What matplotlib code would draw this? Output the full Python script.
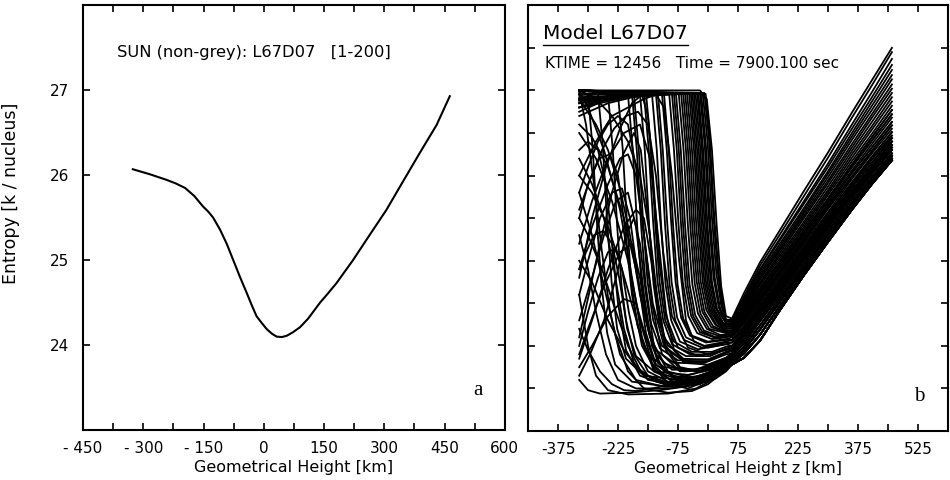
import matplotlib
matplotlib.use("Agg")
import matplotlib.pyplot as plt
from matplotlib.ticker import MultipleLocator, FixedLocator

plt.rcParams['font.family'] = ['DejaVu Sans']

# ---- panel a: mean entropy profile ----
height_a = [-326, -283, -242, -220, -196, -173, -151, -138, -126, -109, -92, -76, -60,
            -43, -30, -18, -5, 7, 20, 32, 45, 57, 72, 90, 110, 140, 160, 181, 222,
            264, 305, 347, 388, 430, 463]
entropy_a = [26.07, 26.01, 25.945, 25.905, 25.85, 25.755, 25.63, 25.57, 25.50, 25.36,
             25.19, 25.00, 24.81, 24.62, 24.47, 24.34, 24.26, 24.19, 24.135, 24.10,
             24.095, 24.11, 24.15, 24.21, 24.31, 24.50, 24.61, 24.73, 25.00, 25.30,
             25.59, 25.93, 26.26, 26.59, 26.93]

xticks_a = [-450, -300, -150, 0, 150, 300, 450, 600]
xlabels_a = ['- 450', '- 300', '- 150', '0', '150', '300', '450', '600']
yticks_a = [24, 25, 26, 27]

# ---- panel b: individual entropy profiles ----
# upper part of the profiles (x >= 60 km), one row per strand of the rising bundle
tail_x = [60, 90, 130, 180, 240, 300, 360, 410, 460]
tail_s = [
    [24.32, 24.62, 24.98, 25.36, 25.82, 26.27, 26.74, 27.12, 27.50],
    [24.30, 24.58, 24.94, 25.31, 25.76, 26.21, 26.68, 27.06, 27.45],
    [24.31, 24.56, 24.90, 25.26, 25.70, 26.14, 26.60, 26.98, 27.37],
    [24.28, 24.55, 24.88, 25.24, 25.67, 26.10, 26.55, 26.92, 27.30],
    [24.29, 24.52, 24.85, 25.20, 25.62, 26.05, 26.50, 26.87, 27.24],
    [24.26, 24.50, 24.82, 25.17, 25.59, 26.02, 26.46, 26.82, 27.18],
    [24.27, 24.48, 24.80, 25.14, 25.56, 25.98, 26.42, 26.77, 27.13],
    [24.24, 24.47, 24.78, 25.12, 25.53, 25.94, 26.37, 26.72, 27.07],
    [24.25, 24.45, 24.75, 25.09, 25.50, 25.91, 26.33, 26.68, 27.02],
    [24.22, 24.43, 24.73, 25.06, 25.46, 25.87, 26.29, 26.63, 26.97],
    [24.23, 24.42, 24.71, 25.03, 25.43, 25.83, 26.25, 26.58, 26.92],
    [24.20, 24.40, 24.68, 25.00, 25.40, 25.80, 26.21, 26.54, 26.87],
    [24.21, 24.38, 24.66, 24.98, 25.37, 25.77, 26.17, 26.49, 26.82],
    [24.18, 24.36, 24.63, 24.95, 25.34, 25.73, 26.13, 26.45, 26.77],
    [24.16, 24.34, 24.61, 24.92, 25.31, 25.70, 26.10, 26.41, 26.72],
    [24.17, 24.32, 24.58, 24.89, 25.28, 25.67, 26.06, 26.37, 26.68],
    [24.14, 24.30, 24.56, 24.87, 25.25, 25.64, 26.03, 26.33, 26.63],
    [24.12, 24.28, 24.53, 24.84, 25.22, 25.61, 25.99, 26.29, 26.59],
    [24.10, 24.26, 24.51, 24.81, 25.19, 25.57, 25.96, 26.26, 26.55],
    [24.07, 24.23, 24.48, 24.78, 25.16, 25.54, 25.92, 26.22, 26.51],
    [24.04, 24.20, 24.46, 24.76, 25.13, 25.51, 25.89, 26.19, 26.47],
    [24.00, 24.17, 24.43, 24.73, 25.10, 25.48, 25.86, 26.15, 26.44],
    [23.97, 24.14, 24.40, 24.70, 25.07, 25.45, 25.82, 26.11, 26.40],
    [23.94, 24.11, 24.37, 24.67, 25.04, 25.42, 25.79, 26.08, 26.36],
    [23.91, 24.07, 24.33, 24.64, 25.01, 25.39, 25.76, 26.05, 26.33],
    [23.88, 24.03, 24.29, 24.60, 24.97, 25.35, 25.72, 26.02, 26.30],
    [23.85, 23.99, 24.24, 24.56, 24.93, 25.31, 25.68, 25.98, 26.26],
    [23.82, 23.95, 24.19, 24.52, 24.90, 25.28, 25.65, 25.95, 26.23],
    [23.80, 23.91, 24.13, 24.47, 24.86, 25.25, 25.62, 25.92, 26.20],
    [23.78, 23.86, 24.06, 24.42, 24.83, 25.22, 25.60, 25.90, 26.18],
]

# deep part of profiles sitting on the adiabat (~27) that drop at their knee
plateau_heads = [
    ([-322, -300, -288, -277, -266, -252, -232, -190, -100, -20, 45],
     [27.0, 26.95, 26.3, 25.4, 24.7, 24.15, 23.78, 23.58, 23.52, 23.58, 23.74], 29),
    ([-322, -275, -263, -252, -241, -227, -205, -160, -70, 0, 45],
     [26.9, 26.97, 26.35, 25.45, 24.75, 24.2, 23.85, 23.65, 23.6, 23.66, 23.8], 28),
    ([-322, -250, -238, -227, -216, -202, -180, -135, -50, 10, 45],
     [27.0, 26.96, 26.3, 25.4, 24.7, 24.2, 23.88, 23.7, 23.66, 23.72, 23.84], 27),
    ([-322, -270, -225, -213, -202, -191, -177, -155, -110, -30, 45],
     [26.8, 26.9, 26.96, 26.3, 25.4, 24.72, 24.25, 23.93, 23.75, 23.72, 23.86], 26),
    ([-322, -200, -188, -177, -166, -152, -130, -85, -10, 45],
     [27.0, 26.95, 26.3, 25.4, 24.72, 24.25, 23.95, 23.8, 23.8, 23.9], 24),
    ([-322, -190, -178, -167, -156, -142, -120, -75, 0, 45],
     [26.95, 26.96, 26.3, 25.4, 24.72, 24.26, 23.97, 23.83, 23.84, 23.92], 23),
    ([-322, -260, -185, -173, -162, -151, -137, -115, -70, 0, 45],
     [26.75, 26.88, 26.95, 26.3, 25.45, 24.75, 24.3, 24.0, 23.85, 23.84, 23.93], 23),
    ([-322, -170, -158, -147, -136, -122, -100, -55, 5, 45],
     [27.0, 26.96, 26.3, 25.4, 24.72, 24.27, 24.0, 23.88, 23.88, 23.96], 22),
    ([-322, -230, -160, -148, -137, -126, -112, -90, -45, 10, 45],
     [26.8, 26.93, 26.96, 26.3, 25.45, 24.75, 24.3, 24.02, 23.9, 23.9, 23.97], 22),
    ([-322, -240, -155, -143, -132, -121, -107, -85, -40, 10, 45],
     [26.85, 26.95, 26.97, 26.35, 25.45, 24.75, 24.3, 24.05, 23.93, 23.93, 23.99], 21),
    ([-322, -140, -128, -117, -106, -92, -70, -25, 45],
     [27.0, 26.96, 26.3, 25.4, 24.72, 24.3, 24.05, 23.96, 24.02], 20),
    ([-322, -130, -118, -107, -96, -82, -60, -15, 45],
     [27.0, 26.96, 26.3, 25.4, 24.72, 24.3, 24.07, 23.98, 24.04], 20),
    ([-322, -250, -180, -125, -113, -102, -91, -77, -55, -10, 45],
     [26.7, 26.85, 26.93, 26.95, 26.3, 25.45, 24.75, 24.33, 24.1, 24.0, 24.05], 19),
    ([-322, -200, -115, -103, -92, -81, -67, -45, -5, 45],
     [26.85, 26.93, 26.96, 26.3, 25.45, 24.75, 24.33, 24.12, 24.04, 24.07], 19),
    ([-322, -110, -98, -87, -76, -62, -40, 0, 45],
     [27.0, 26.96, 26.3, 25.4, 24.72, 24.32, 24.12, 24.05, 24.08], 18),
    ([-322, -97, -85, -74, -63, -49, -27, 10, 45],
     [26.9, 26.96, 26.3, 25.45, 24.75, 24.35, 24.15, 24.08, 24.1], 17),
    ([-322, -90, -78, -67, -56, -42, -20, 15, 45],
     [27.0, 26.96, 26.3, 25.4, 24.72, 24.35, 24.16, 24.1, 24.11], 17),
    ([-322, -200, -85, -73, -62, -51, -37, -15, 20, 45],
     [26.8, 26.92, 26.96, 26.3, 25.4, 24.72, 24.35, 24.17, 24.1, 24.12], 16),
    ([-322, -80, -68, -57, -46, -32, -10, 25, 45],
     [26.9, 26.96, 26.3, 25.4, 24.72, 24.36, 24.18, 24.12, 24.13], 16),
    ([-322, -73, -61, -50, -39, -25, -3, 30, 45],
     [27.0, 26.96, 26.3, 25.4, 24.72, 24.38, 24.2, 24.13, 24.13], 15),
    ([-322, -67, -55, -44, -33, -19, 3, 45],
     [27.0, 26.96, 26.3, 25.4, 24.73, 24.38, 24.2, 24.15], 14),
    ([-322, -62, -50, -39, -28, -14, 8, 45],
     [26.92, 26.97, 26.3, 25.4, 24.75, 24.4, 24.22, 24.16], 14),
    ([-322, -57, -45, -34, -23, -9, 13, 45],
     [26.88, 26.97, 26.3, 25.4, 24.75, 24.4, 24.23, 24.17], 13),
    ([-322, -52, -40, -29, -18, -4, 18, 45],
     [27.0, 26.96, 26.3, 25.4, 24.75, 24.42, 24.25, 24.18], 13),
    ([-322, -150, -43, -31, -20, -9, 5, 25, 45],
     [26.85, 26.95, 26.97, 26.3, 25.4, 24.75, 24.42, 24.26, 24.2], 12),
    ([-322, -47, -35, -24, -13, 1, 22, 45],
     [27.0, 26.96, 26.3, 25.4, 24.75, 24.42, 24.24, 24.2], 11),
    ([-322, -35, -23, -12, -1, 13, 33, 45],
     [27.0, 26.96, 26.3, 25.4, 24.75, 24.42, 24.26, 24.22], 10),
    ([-322, -39, -27, -16, -5, 9, 29, 45],
     [26.96, 26.97, 26.3, 25.4, 24.75, 24.42, 24.26, 24.23], 9),
    ([-322, -27, -15, -4, 7, 20, 38, 45],
     [26.95, 26.97, 26.3, 25.4, 24.75, 24.44, 24.27, 24.24], 8),
    ([-322, -31, -19, -8, 3, 17, 36, 45],
     [27.0, 26.96, 26.3, 25.4, 24.75, 24.42, 24.26, 24.25], 7),
    ([-322, -20, -8, 3, 14, 27, 45],
     [27.0, 26.97, 26.35, 25.45, 24.8, 24.45, 24.26], 6),
    ([-322, -200, -24, -12, -1, 10, 23, 45],
     [26.88, 26.95, 26.97, 26.3, 25.4, 24.75, 24.43, 24.27], 5),
    ([-322, -13, -1, 10, 21, 33, 45],
     [27.0, 26.96, 26.4, 25.5, 24.85, 24.48, 24.3], 4),
    ([-322, -17, -5, 6, 17, 30, 45],
     [27.0, 26.96, 26.35, 25.45, 24.8, 24.45, 24.29], 3),
    ([-322, -6, 5, 16, 27, 38, 45],
     [27.0, 26.96, 26.4, 25.5, 24.85, 24.45, 24.3], 2),
    ([-322, -9, 3, 14, 25, 36, 45],
     [26.9, 26.97, 26.4, 25.5, 24.85, 24.46, 24.31], 1),
    ([-322, -20, -3, 10, 22, 33, 45],
     [27.0, 27.0, 26.9, 26.3, 25.4, 24.7, 24.35], 0),
]

# profiles that fall off gradually from the bottom boundary
falling_heads = [
    ([-322, -280, -240, -200, -170, -140, -100, -50, 0, 45],
     [26.5, 26.2, 25.7, 25.0, 24.3, 23.8, 23.55, 23.5, 23.6, 23.75], 29),
    ([-322, -290, -260, -230, -200, -160, -100, -40, 0, 45],
     [25.8, 25.3, 24.7, 24.1, 23.7, 23.5, 23.45, 23.47, 23.55, 23.72], 29),
    ([-322, -300, -260, -220, -190, -165, -135, -90, -30, 20, 45],
     [27.0, 26.8, 26.3, 25.6, 24.8, 24.1, 23.7, 23.6, 23.68, 23.8, 23.85], 25),
    ([-322, -300, -280, -250, -200, -100, -30, 20, 45],
     [24.6, 24.0, 23.65, 23.48, 23.43, 23.44, 23.5, 23.62, 23.7], 29),
    ([-322, -300, -270, -200, -120, -60, 0, 45],
     [23.6, 23.48, 23.44, 23.45, 23.48, 23.52, 23.6, 23.72], 29),
    ([-322, -280, -240, -200, -170, -145, -125, -105, -70, -20, 30, 45],
     [27.0, 26.9, 26.7, 26.4, 26.0, 25.3, 24.5, 24.0, 23.75, 23.7, 23.8, 23.85], 26),
    ([-322, -290, -260, -235, -210, -185, -150, -80, -10, 45],
     [26.2, 25.9, 25.5, 24.9, 24.2, 23.8, 23.6, 23.55, 23.6, 23.76], 28),
    ([-322, -300, -280, -255, -225, -180, -100, -20, 45],
     [25.3, 24.9, 24.4, 23.9, 23.6, 23.5, 23.5, 23.55, 23.74], 28),
    ([-322, -290, -250, -210, -170, -120, -50, 10, 45],
     [25.0, 24.75, 24.3, 23.95, 23.7, 23.58, 23.55, 23.62, 23.74], 27),
    ([-322, -290, -250, -210, -180, -155, -130, -90, -30, 30, 45],
     [26.6, 26.45, 26.1, 25.5, 24.9, 24.3, 23.9, 23.72, 23.72, 23.8, 23.84], 24),
    ([-322, -300, -270, -240, -210, -180, -140, -80, 0, 45],
     [24.2, 23.95, 23.7, 23.55, 23.48, 23.47, 23.5, 23.56, 23.64, 23.75], 27),
    ([-322, -290, -250, -215, -185, -160, -130, -90, -40, 10, 45],
     [26.0, 25.8, 25.4, 24.9, 24.4, 24.0, 23.78, 23.65, 23.62, 23.7, 23.8], 26),
    ([-322, -300, -265, -230, -200, -170, -130, -60, 0, 45],
     [25.5, 25.3, 24.9, 24.4, 24.0, 23.72, 23.58, 23.52, 23.58, 23.73], 28),
    ([-322, -280, -250, -220, -195, -170, -145, -110, -60, 0, 45],
     [26.9, 26.6, 26.3, 25.85, 25.3, 24.6, 24.1, 23.8, 23.7, 23.72, 23.82], 25),
    ([-322, -305, -285, -265, -245, -220, -180, -110, -30, 45],
     [26.98, 26.6, 25.9, 25.1, 24.4, 23.9, 23.6, 23.52, 23.56, 23.74], 28),
    ([-322, -300, -275, -255, -240, -225, -205, -170, -110, -30, 45],
     [26.3, 26.4, 26.3, 25.9, 25.2, 24.5, 23.95, 23.65, 23.55, 23.58, 23.74], 29),
]

# profiles that first rise, then collapse into the cool downflow
rising_heads = [
    ([-322, -290, -260, -230, -200, -180, -160, -140, -110, -60, 0, 45],
     [24.3, 24.8, 25.3, 25.7, 25.8, 25.4, 24.6, 24.0, 23.7, 23.6, 23.68, 23.82], 26),
    ([-322, -290, -250, -210, -170, -145, -125, -105, -85, -50, 0, 45],
     [25.2, 25.7, 26.2, 26.5, 26.6, 26.2, 25.3, 24.4, 23.95, 23.8, 23.82, 23.92], 22),
    ([-322, -300, -260, -220, -190, -170, -150, -125, -80, -20, 30, 45],
     [23.9, 24.2, 24.7, 25.1, 25.2, 24.8, 24.2, 23.8, 23.6, 23.6, 23.72, 23.76], 29),
    ([-322, -280, -240, -200, -160, -130, -110, -90, -72, -55, -35, 0, 45],
     [26.0, 26.4, 26.7, 26.8, 26.9, 26.95, 26.8, 26.0, 25.0, 24.3, 24.05, 23.98, 24.02], 21),
    ([-322, -290, -250, -220, -200, -180, -160, -140, -115, -70, 0, 45],
     [24.9, 25.4, 25.9, 26.2, 26.25, 26.0, 25.3, 24.5, 23.9, 23.7, 23.75, 23.86], 24),
    ([-322, -290, -250, -210, -180, -155, -130, -90, -30, 20, 45],
     [23.75, 24.0, 24.35, 24.55, 24.5, 24.1, 23.75, 23.58, 23.58, 23.66, 23.74], 29),
    ([-322, -300, -270, -240, -215, -195, -175, -155, -130, -80, -10, 45],
     [24.6, 25.0, 25.5, 25.8, 25.85, 25.5, 24.8, 24.15, 23.78, 23.62, 23.65, 23.8], 27),
    ([-322, -295, -265, -235, -205, -175, -150, -130, -112, -90, -50, 0, 45],
     [25.6, 25.95, 26.3, 26.55, 26.7, 26.75, 26.6, 26.0, 25.1, 24.35, 23.98, 23.9, 23.96], 21),
    ([-322, -300, -275, -250, -230, -215, -198, -180, -150, -100, -30, 45],
     [24.0, 24.4, 24.8, 25.1, 25.15, 24.9, 24.4, 24.0, 23.7, 23.58, 23.6, 23.76], 28),
    ([-322, -290, -250, -210, -180, -160, -142, -125, -105, -70, -20, 45],
     [23.85, 24.3, 24.9, 25.4, 25.6, 25.5, 25.0, 24.4, 23.95, 23.72, 23.7, 23.82], 25),
    ([-322, -300, -275, -250, -225, -200, -180, -160, -138, -110, -60, 0, 45],
     [25.8, 26.1, 26.4, 26.6, 26.7, 26.6, 26.1, 25.3, 24.5, 24.0, 23.82, 23.82, 23.92], 23),
    ([-322, -305, -285, -262, -240, -222, -205, -185, -150, -90, -20, 45],
     [24.9, 25.1, 25.3, 25.35, 25.2, 24.8, 24.3, 23.9, 23.65, 23.55, 23.58, 23.74], 29),
    ([-322, -290, -255, -220, -190, -165, -150, -136, -122, -105, -75, -25, 45],
     [24.8, 25.5, 26.1, 26.55, 26.85, 26.95, 26.7, 25.9, 25.0, 24.35, 23.98, 23.88, 23.95], 22),
    ([-322, -300, -272, -245, -225, -208, -190, -165, -130, -70, 0, 45],
     [25.5, 25.9, 26.2, 26.25, 26.0, 25.4, 24.6, 24.0, 23.7, 23.6, 23.65, 23.78], 27),
    ([-322, -298, -270, -240, -212, -185, -168, -152, -135, -110, -60, 0, 45],
     [24.1, 24.6, 25.2, 25.8, 26.25, 26.5, 26.3, 25.6, 24.8, 24.1, 23.8, 23.78, 23.86], 24),
    ([-322, -295, -260, -230, -205, -185, -170, -155, -135, -100, -40, 45],
     [23.65, 23.9, 24.3, 24.8, 25.3, 25.5, 25.2, 24.6, 24.0, 23.7, 23.62, 23.76], 28),
]

xticks_b = [-375, -225, -75, 75, 225, 375, 525]
yticks_b = [23.5, 24.0, 24.5, 25.0, 25.5, 26.0, 26.5, 27.0, 27.5]


def style_frame(ax, yminor):
    ax.set_xlim(-450, 600)
    ax.set_ylim(23.0, 28.0)
    for sp in ax.spines.values():
        sp.set_linewidth(1.5)
    ax.xaxis.set_minor_locator(MultipleLocator(75))
    ax.yaxis.set_minor_locator(FixedLocator(yminor))
    ax.tick_params(which='both', direction='in', top=True, right=True,
                   length=5, width=1.2, labelsize=11)
    ax.tick_params(axis='x', pad=8)


fig = plt.figure(figsize=(9.5, 4.8), dpi=100)
ax1 = fig.add_axes([0.0874, 0.104, 0.444, 0.885])
ax2 = fig.add_axes([0.5558, 0.102, 0.442, 0.887])

# panel a
ax1.plot(height_a, entropy_a, color='k', lw=1.5)
style_frame(ax1, yticks_a)
ax1.set_xticks(xticks_a)
ax1.set_xticklabels(xlabels_a)
ax1.set_yticks(yticks_a)
ax1.tick_params(axis='y', pad=10)
ax1.set_xlabel('Geometrical Height [km]', fontsize=11.5, labelpad=3)
ax1.set_ylabel('Entropy [k / nucleus]', fontsize=12.5)
ax1.yaxis.set_label_coords(-0.15, 0.557)
ax1.text(0.081, 0.889, 'SUN (non-grey): L67D07   [1-200]', transform=ax1.transAxes,
         fontsize=11.7, va='center', ha='left')
ax1.text(0.936, 0.094, 'a', transform=ax1.transAxes, fontsize=15,
         family='Liberation Serif', ha='center', va='center')

# panel b
for group in (plateau_heads, falling_heads, rising_heads):
    for xs, ss, t in group:
        ax2.plot(xs + tail_x, ss + tail_s[t], color='k', lw=1.3)
style_frame(ax2, yticks_b)
ax2.set_xticks(xticks_b)
ax2.set_xticklabels([str(v) for v in xticks_b])
ax2.set_yticks([])
ax2.set_xlabel('Geometrical Height z [km]', fontsize=11.3, labelpad=3)
t_model = ax2.text(0.036, 0.934, 'Model L67D07', transform=ax2.transAxes,
                   fontsize=14.5, va='center', ha='left')
ax2.text(0.040, 0.864, 'KTIME = 12456   Time = 7900.100 sec', transform=ax2.transAxes,
         fontsize=11, va='center', ha='left')
ax2.text(0.931, 0.080, 'b', transform=ax2.transAxes, fontsize=15,
         family='Liberation Serif', ha='center', va='center')

# underline the model name
fig.canvas.draw()
bb = t_model.get_window_extent().transformed(ax2.transAxes.inverted())
ax2.plot([bb.x0, bb.x1], [bb.y0 - 0.004, bb.y0 - 0.004], color='k', lw=1.0,
         transform=ax2.transAxes, clip_on=False)

fig.savefig('out.png', dpi=100)
